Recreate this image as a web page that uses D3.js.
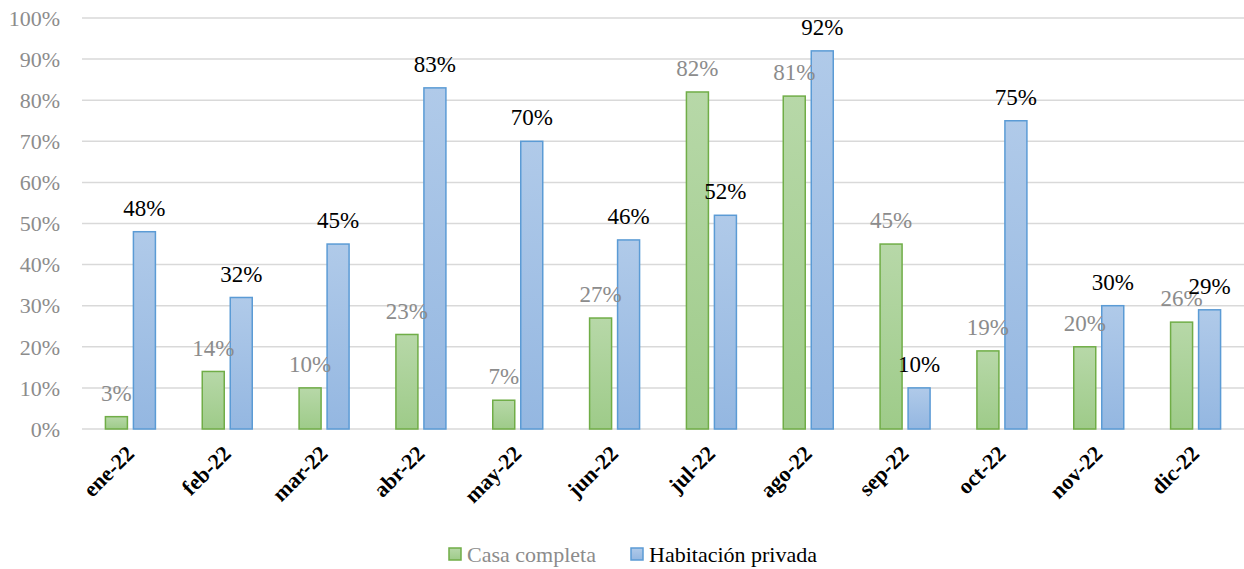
<!DOCTYPE html>
<html>
<head>
<meta charset="utf-8">
<script src="https://cdn.jsdelivr.net/npm/d3@7"></script>
<style>
  body { margin: 0; background: #fff; }
  svg { display: block; font-family: "Liberation Serif", serif; }
</style>
</head>
<body>
<svg id="chart" width="1244" height="569"></svg>
<script>
var months = ['ene-22','feb-22','mar-22','abr-22','may-22','jun-22','jul-22','ago-22','sep-22','oct-22','nov-22','dic-22'];
var casaCompleta = [3,14,10,23,7,27,82,81,45,19,20,26];
var habitacionPrivada = [48,32,45,83,70,46,52,92,10,75,30,29];
var seriesNames = ['Casa completa','Habitación privada'];
var yTicks = [0,10,20,30,40,50,60,70,80,90,100];

var svg = d3.select('#chart'),
  margin = { top: 18, right: 0, bottom: 140, left: 82 },
  width = 1244 - margin.left - margin.right,
  height = 429 - margin.top;

var defs = svg.append('defs');
function grad(id, top, bottom){
  var g = defs.append('linearGradient').attr('id', id)
    .attr('x1', 0).attr('y1', 0).attr('x2', 0).attr('y2', 1);
  g.append('stop').attr('offset', '0%').attr('stop-color', top);
  g.append('stop').attr('offset', '100%').attr('stop-color', bottom);
}
grad('gGreen', '#b7d8a8', '#9ecb89');
grad('gBlue', '#b0cae9', '#94b7e1');

var series = [
  { name: seriesNames[0], values: casaCompleta, fill: 'url(#gGreen)', stroke: '#70ad47', label: '#8c8c8c', dx: -25 },
  { name: seriesNames[1], values: habitacionPrivada, fill: 'url(#gBlue)', stroke: '#5b9bd5', label: '#000', dx: 3 }
];

var x = d3.scaleBand().domain(months).range([0, width]);
var y = d3.scaleLinear().domain([0, 100]).range([height, 0]);

var g = svg.append('g').attr('transform', 'translate(' + margin.left + ',' + margin.top + ')');

// gridlines
g.selectAll('.grid').data(yTicks).enter().append('line')
  .attr('x1', 0).attr('x2', width)
  .attr('y1', function(d){ return y(d) }).attr('y2', function(d){ return y(d) })
  .attr('stroke', '#d9d9d9').attr('stroke-width', 1.5);

// y labels
g.selectAll('.ylab').data(yTicks).enter().append('text')
  .attr('x', -22).attr('y', function(d){ return y(d) })
  .attr('dy', '0.35em')
  .attr('text-anchor', 'end')
  .attr('fill', '#8c8c8c')
  .style('font-size', '22px')
  .text(function(d){ return d + '%' });

var barW = 22;

series.forEach(function(s){
  var sg = g.append('g');
  sg.selectAll('rect').data(s.values).enter().append('rect')
    .attr('x', function(d, i){ return x(months[i]) + x.bandwidth() / 2 + s.dx })
    .attr('y', function(d){ return y(d) })
    .attr('width', barW)
    .attr('height', function(d){ return height - y(d) })
    .attr('fill', s.fill)
    .attr('stroke', s.stroke)
    .attr('stroke-width', 1.5);
});

// labels drawn after all bars
series.forEach(function(s){
  g.append('g').selectAll('text').data(s.values).enter().append('text')
    .attr('x', function(d, i){ return x(months[i]) + x.bandwidth() / 2 + s.dx + barW / 2 })
    .attr('y', function(d){ return y(d) - 24 })
    .attr('dy', '0.35em')
    .attr('text-anchor', 'middle')
    .attr('fill', s.label)
    .style('font-size', '23px')
    .text(function(d){ return d + '%' });
});

// x labels
g.selectAll('.xlab').data(months).enter().append('text')
  .attr('transform', function(d){ return 'translate(' + (x(d) + x.bandwidth() / 2 + 5) + ',' + (height + 26) + ') rotate(-45)' })
  .attr('text-anchor', 'end')
  .attr('fill', '#000')
  .style('font-size', '22px')
  .style('font-weight', 'bold')
  .text(function(d){ return d });

// legend
var legend = svg.append('g').attr('transform', 'translate(449,554)');
var lx = [0, 182];
series.forEach(function(s, i){
  var lg = legend.append('g').attr('transform', 'translate(' + lx[i] + ',0)');
  lg.append('rect').attr('x', 0).attr('y', -6).attr('width', 12).attr('height', 12)
    .attr('fill', s.fill).attr('stroke', s.stroke).attr('stroke-width', 1.5);
  lg.append('text').attr('x', 18).attr('y', 0).attr('dy', '0.35em')
    .attr('fill', s.label).style('font-size', '22px').text(s.name);
});
</script>
</body>
</html>
